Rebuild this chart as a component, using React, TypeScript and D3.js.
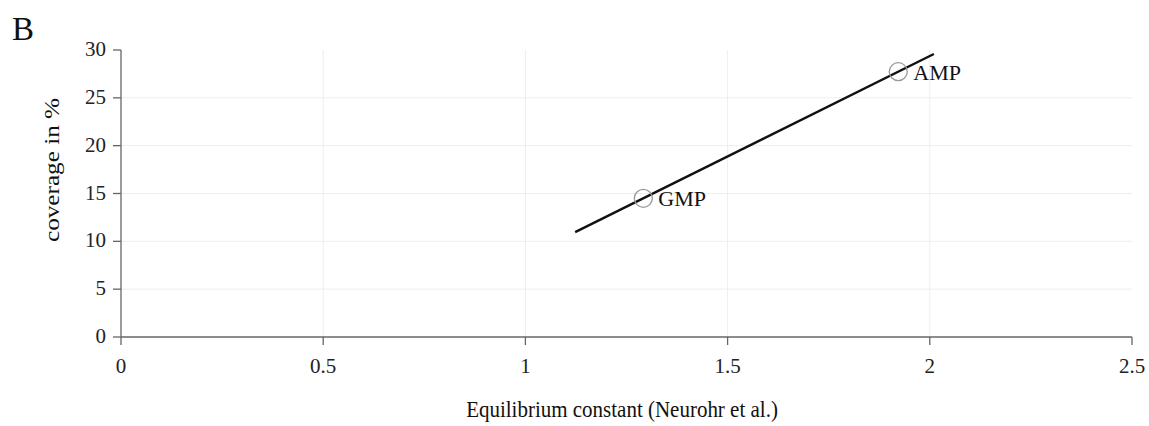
import React from "react";
import * as d3 from "d3";

const labels = ["GMP", "AMP"];
const xValues = [1.2916, 1.922];
const yValues = [14.5, 27.73];
const fitX = [1.123, 2.01];
const xTicks = [0, 0.5, 1, 1.5, 2, 2.5];
const yTicks = [0, 5, 10, 15, 20, 25, 30];

export default function App() {
  const W = 1149, H = 426;
  const left = 121, right = 1132, top = 50, bottom = 337;
  const x = d3.scaleLinear().domain([0, 2.5]).range([left, right]);
  const y = d3.scaleLinear().domain([0, 30]).range([bottom, top]);
  const slope = (yValues[1] - yValues[0]) / (xValues[1] - xValues[0]);
  const fy = (v: number) => yValues[0] + slope * (v - xValues[0]);
  const line = d3.line<number>().x((d) => x(d)).y((d) => y(fy(d)));
  const font = "'Liberation Serif', 'Times New Roman', serif";
  return (
    <svg width={W} height={H} style={{ position: "absolute", left: 0, top: 0, background: "#fff" }} fontFamily={font}>
      {xTicks.filter((t) => t > 0 && t < 2.5).map((t) => (
        <line key={"gx" + t} x1={x(t)} x2={x(t)} y1={y(30)} y2={y(0)} stroke="#eceef2" strokeWidth={1} />
      ))}
      {yTicks.filter((t) => t > 0 && t < 30).map((t) => (
        <line key={"gy" + t} x1={x(0)} x2={x(2.5)} y1={y(t)} y2={y(t)} stroke="#eceef2" strokeWidth={1} />
      ))}
      <line x1={x(0)} x2={x(0)} y1={y(30)} y2={y(0)} stroke="#666" strokeWidth={1.3} />
      <line x1={x(0)} x2={x(2.5)} y1={y(0)} y2={y(0)} stroke="#666" strokeWidth={1.3} />
      {yTicks.map((t) => (
        <g key={"yt" + t}>
          <line x1={x(0) - 8} x2={x(0)} y1={y(t)} y2={y(t)} stroke="#666" strokeWidth={1.3} />
          <text x={x(0) - 15} y={y(t) + 6} textAnchor="end" fontSize={21} fill="#222">{t}</text>
        </g>
      ))}
      {xTicks.map((t) => (
        <g key={"xt" + t}>
          <line x1={x(t)} x2={x(t)} y1={y(0)} y2={y(0) + 8} stroke="#666" strokeWidth={1.3} />
          <text x={x(t)} y={y(0) + 36} textAnchor="middle" fontSize={21} fill="#222">{t}</text>
        </g>
      ))}
      <path d={line(fitX) || ""} fill="none" stroke="#111" strokeWidth={2.4} />
      {xValues.map((v, i) => (
        <g key={labels[i]}>
          <circle cx={x(v)} cy={y(yValues[i])} r={9} fill="none" stroke="#999" strokeWidth={1.3} />
          <text x={x(v) + 15} y={y(yValues[i]) + 8} fontSize={22} fill="#111">{labels[i]}</text>
        </g>
      ))}
      <text transform="translate(622, 417) scale(1, 1.14)" textAnchor="middle" fontSize={21} fill="#111">Equilibrium constant (Neurohr et al.)</text>
      <text transform="translate(59, 170) scale(1, 1.2) rotate(-90)" textAnchor="middle" fontSize={21} fill="#111">coverage in %</text>
      <text x={12} y={40} fontSize={33} fill="#111">B</text>
    </svg>
  );
}
